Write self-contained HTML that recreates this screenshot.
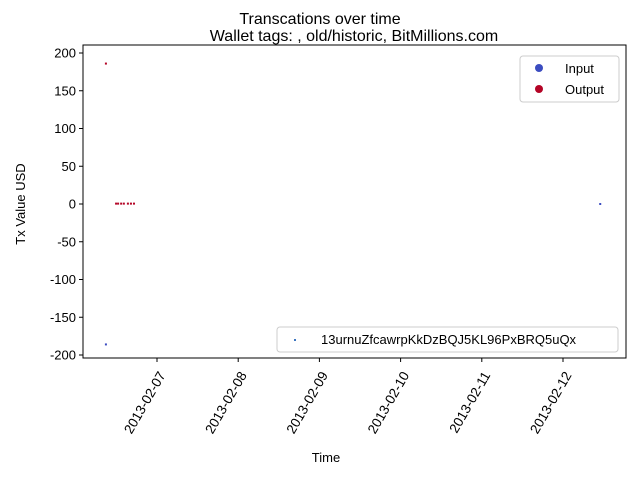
<!DOCTYPE html>
<html><head><meta charset="utf-8"><style>
body{margin:0;background:#fff;}
svg{font-family:"Liberation Sans","DejaVu Sans",sans-serif;}
</style></head><body>
<svg id="c" width="640" height="480">
<text x="320" y="24" font-size="16" text-anchor="middle">Transcations over time</text>
<text x="354" y="41" font-size="16" text-anchor="middle">Wallet tags: , old/historic, BitMillions.com</text>
<g id="marks"></g>
<rect x="83" y="45" width="543" height="313" fill="none" stroke="#000" stroke-width="1"/>
<g id="axes"></g>
<text x="326" y="462" font-size="13" text-anchor="middle">Time</text>
<text transform="translate(25,204) rotate(-90)" font-size="13" text-anchor="middle">Tx Value USD</text>
<g>
<rect x="520" y="56" width="99" height="46" rx="3" fill="#fff" stroke="#ccc"/>
<circle cx="539" cy="68" r="4" fill="#3b4cc0"/>
<text x="565" y="73" font-size="13">Input</text>
<circle cx="539" cy="89" r="4" fill="#b40426"/>
<text x="565" y="94" font-size="13">Output</text>
</g>
<g>
<rect x="277" y="327" width="341" height="25" rx="3" fill="#fff" stroke="#ccc"/>
<rect x="294" y="339" width="2" height="2" fill="#3b75c0"/>
<text x="321" y="344" font-size="13">13urnuZfcawrpKkDzBQJ5KL96PxBRQ5uQx</text>
</g>
</svg>
<script>
// hours since 2013-02-06 00:00
const hours=[8.9,8.9,11.9,12.5,13.4,14.2,15.4,16.3,17.2,155];
const values=[186,-186,0.5,0.5,0.5,0.5,0.5,0.5,0.5,0];
const types=["Output","Input","Output","Output","Output","Output","Output","Output","Output","Input"];
const yTicks=[200,150,100,50,0,-50,-100,-150,-200];
const xTickLabels=["2013-02-07","2013-02-08","2013-02-09","2013-02-10","2013-02-11","2013-02-12"];
const xTickHours=[24,48,72,96,120,144];
const ns="http://www.w3.org/2000/svg";
function xs(h){return 157+(h-24)*81.2/24;}
function ys(v){return 204-v*0.755;}
const ax=document.getElementById('axes'),mk=document.getElementById('marks');
function el(t,a,p){const e=document.createElementNS(ns,t);for(const k in a)e.setAttribute(k,a[k]);p.appendChild(e);return e;}
yTicks.forEach(v=>{const y=ys(v);
 const l=el('line',{x1:79,x2:83,y1:y,y2:y,stroke:'#000'},ax);
 
 
 const t=el('text',{x:76,y:y+4.5,'font-size':13,'text-anchor':'end'},ax);t.textContent=v;
 
 
});
xTickHours.forEach((h,i)=>{const x=xs(h);
 const l=el('line',{x1:x,x2:x,y1:358,y2:362,stroke:'#000'},ax);
 
 
 const t=el('text',{'font-size':13.5,'text-anchor':'end',transform:`translate(${x+9},${375}) rotate(-60)`},ax);t.textContent=xTickLabels[i];
 
 
});
hours.forEach((h,i)=>{
 const c=el('rect',{x:xs(h)-1,y:ys(values[i])-1,width:2,height:2,fill:types[i]=="Input"?'#3b4cc0':'#b40426'},mk);
 
 
});
</script>
</body></html>
